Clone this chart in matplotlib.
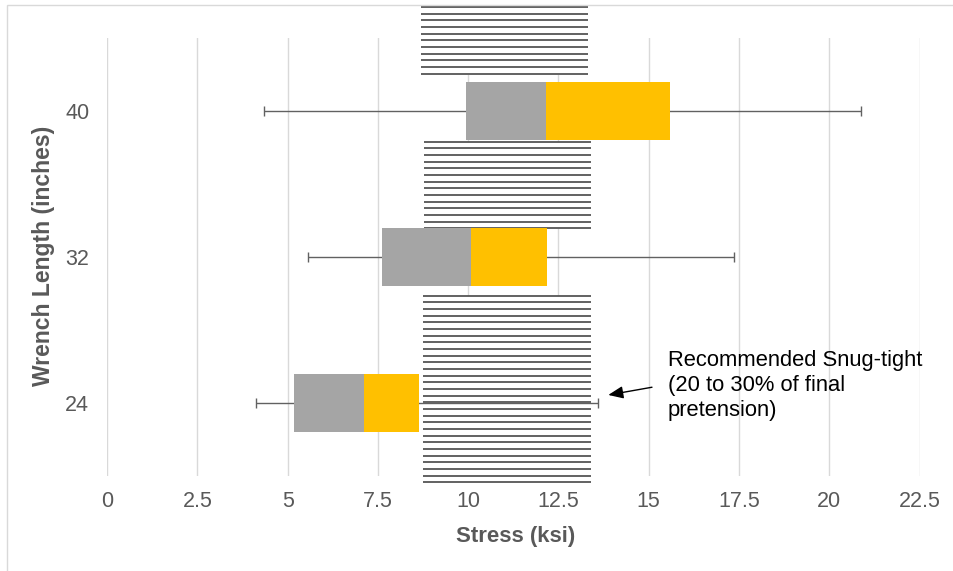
import numpy as np
import matplotlib
matplotlib.use("Agg")
import matplotlib.pyplot as plt
from matplotlib.patches import Rectangle

plt.rcParams['font.family'] = ['Liberation Sans', 'DejaVu Sans']

# Stress distribution (ksi) for each wrench length
wrench_lengths = ["24", "32", "40"]
stress_min = [4.11, 5.55, 4.34]
stress_q1 = [5.18, 7.62, 9.94]
stress_median = [7.11, 10.09, 12.15]
stress_q3 = [8.64, 12.17, 15.60]
stress_max = [13.60, 17.37, 20.87]

x_ticks = [0, 2.5, 5, 7.5, 10, 12.5, 15, 17.5, 20, 22.5]
x_tick_labels = ["0", "2.5", "5", "7.5", "10", "12.5", "15", "17.5", "20", "22.5"]

# Recommended snug-tight stress range, drawn as a striped band in three pieces
snug_x0 = [8.68, 8.77, 8.74]
snug_x1 = [13.31, 13.39, 13.39]
snug_ytop = [2.712, 1.790, 0.735]
snug_ybot = [2.249, 1.194, -0.575]

GRAY = "#A5A5A5"
YELLOW = "#FFC000"
TEXT = "#595959"

W, H, DPI = 954, 571, 100
fig = plt.figure(figsize=(W / DPI, H / DPI), dpi=DPI)
fig.patch.set_facecolor("white")

# light chart-area border (left and top edges visible)
fig.add_artist(Rectangle((7 / W, -0.05), 1.2, 1 - 5 / H + 0.05,
                         transform=fig.transFigure, fill=False,
                         edgecolor="#d9d9d9", lw=1.0))

left, right = 107.2 / W, 919.5 / W
bottom, top = 1 - 476 / H, 1 - 38 / H
ax = fig.add_axes([left, bottom, right - left, top - bottom])

pos = np.arange(len(wrench_lengths))
ax.set_xlim(0, 22.5)
ax.set_ylim(-0.5, 2.5)

# vertical gridlines
ax.set_xticks(x_ticks)
ax.set_xticklabels(x_tick_labels)
ax.grid(axis="x", color="#d9d9d9", lw=1.0, zorder=0)
ax.set_axisbelow(True)
for s in ax.spines.values():
    s.set_visible(False)
ax.tick_params(length=0, labelsize=15.5, labelcolor=TEXT)
ax.tick_params(axis="x", pad=11)
ax.tick_params(axis="y", pad=13)
ax.set_yticks(pos)
ax.set_yticklabels(wrench_lengths)

# striped snug-tight band
line_step = 6.67 / 146.0
for x0, x1, yt, yb in zip(snug_x0, snug_x1, snug_ytop, snug_ybot):
    ax.add_patch(Rectangle((x0, yb), x1 - x0, yt - yb, facecolor="white",
                           edgecolor="none", zorder=1, clip_on=False))
    ys = np.arange(yt, yb - 1e-6, -line_step)
    ax.hlines(ys, x0, x1, colors="#555555", lw=1.3, zorder=2, clip_on=False)

# whiskers from min to max
med = np.array(stress_median)
xerr = [med - np.array(stress_min), np.array(stress_max) - med]
ax.errorbar(med, pos, xerr=xerr, fmt="none", ecolor="#616161",
            elinewidth=1.0, capsize=3.6, capthick=1.0, zorder=3)

# boxes: lower half (gray) and upper half (yellow)
q1 = np.array(stress_q1)
q3 = np.array(stress_q3)
ax.barh(pos, med - q1, left=q1, height=0.4, color=GRAY, zorder=4)
ax.barh(pos, q3 - med, left=med, height=0.4, color=YELLOW, zorder=4)

ax.set_xlabel("Stress (ksi)", fontsize=16, fontweight="bold", color=TEXT)
ax.xaxis.set_label_coords(0.503, -0.137)
ax.xaxis.label.set_va("center")
ax.set_ylabel("Wrench Length (inches)", fontsize=16.5, fontweight="bold", color=TEXT)
ax.yaxis.set_label_coords(-0.079, 0.503)
ax.yaxis.label.set_va("center")

ax.annotate("", xy=(13.88, 0.055), xytext=(15.09, 0.108),
            arrowprops=dict(arrowstyle="-|>,head_length=0.6,head_width=0.25",
                            mutation_scale=15, color="black", lw=1.0,
                            shrinkA=0, shrinkB=0), zorder=6)
ax.text(15.53, 0.122, "Recommended Snug-tight\n(20 to 30% of final\npretension)",
        fontsize=15.8, color="black", ha="left", va="center", linespacing=1.24,
        zorder=6)

fig.savefig("out.png", dpi=DPI, facecolor="white")
